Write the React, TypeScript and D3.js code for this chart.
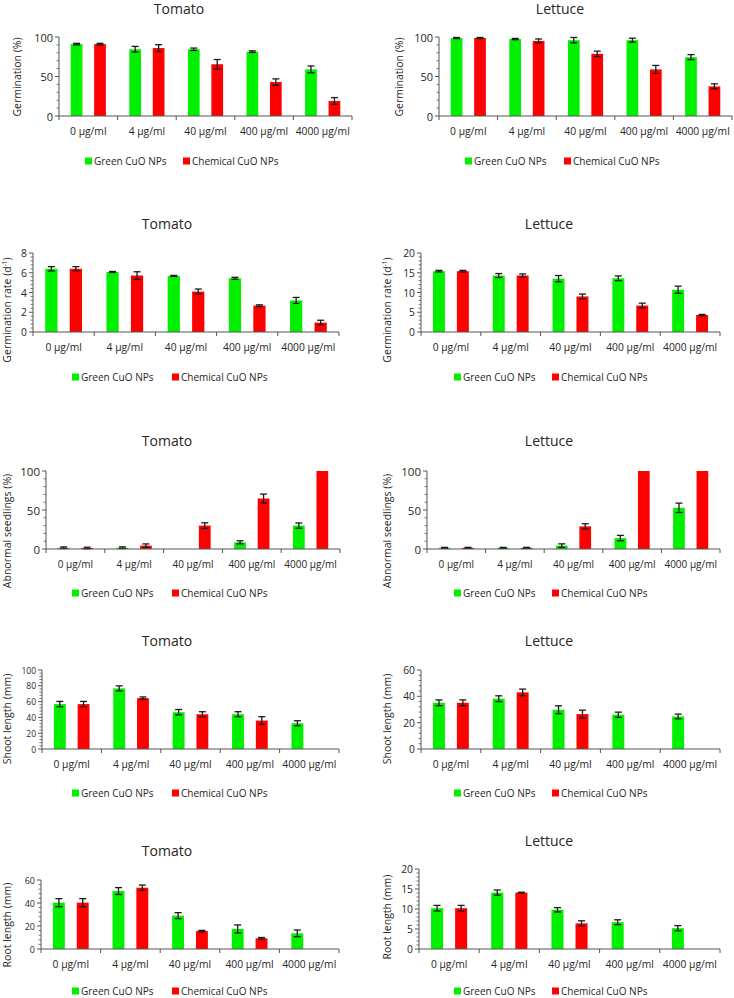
import React from "react";
import * as d3 from "d3";

// ---------- DATA ----------
const categories = ["0 µg/ml", "4 µg/ml", "40 µg/ml", "400 µg/ml", "4000 µg/ml"];
const seriesNames = ["Green CuO NPs", "Chemical CuO NPs"];
const seriesColors = ["#00F000", "#FF0000"];

// Germination (%)
const tomatoGermGreen = [91, 84.5, 84.5, 81.5, 59];
const tomatoGermGreenErr = [1, 3.6, 1.5, 1, 4.3];
const tomatoGermRed = [91, 86, 65.5, 43, 19];
const tomatoGermRedErr = [1, 4.3, 6, 4, 4.3];
const lettuceGermGreen = [98.7, 97.4, 96, 96, 74.5];
const lettuceGermGreenErr = [0.7, 0.8, 3.4, 2.5, 3.2];
const lettuceGermRed = [98.7, 95, 78.7, 59, 37.5];
const lettuceGermRedErr = [0.7, 2.5, 3.4, 5, 3.2];

// Germination rate (d-1)
const tomatoRateGreen = [6.4, 6.08, 5.68, 5.44, 3.2];
const tomatoRateGreenErr = [0.22, 0.05, 0.05, 0.1, 0.3];
const tomatoRateRed = [6.4, 5.72, 4.09, 2.67, 0.95];
const tomatoRateRedErr = [0.22, 0.38, 0.26, 0.08, 0.24];
const lettuceRateGreen = [15.4, 14.3, 13.5, 13.6, 10.7];
const lettuceRateGreenErr = [0.2, 0.5, 0.8, 0.6, 0.9];
const lettuceRateRed = [15.4, 14.3, 9.0, 6.7, 4.3];
const lettuceRateRedErr = [0.2, 0.4, 0.6, 0.6, 0.15];

// Abnormal seedlings (%)
const tomatoAbnGreen = [1.7, 1.7, null, 8.5, 30];
const tomatoAbnGreenErr = [1, 1, null, 2, 3.4];
const tomatoAbnRed = [1.3, 4.3, 30, 64.7, 100];
const tomatoAbnRedErr = [1, 2.2, 3.6, 5.7, 0];
const lettuceAbnGreen = [1.5, 1.5, 4.3, 14, 52.8];
const lettuceAbnGreenErr = [0.6, 0.6, 2.3, 3.4, 6];
const lettuceAbnRed = [1.5, 1.5, 29, 100, 100];
const lettuceAbnRedErr = [0.6, 0.6, 3.4, 0, 0];

// Shoot length (mm)
const tomatoShootGreen = [56.8, 76.7, 46.6, 44, 32.6];
const tomatoShootGreenErr = [3.4, 3.2, 3.4, 3.2, 3.2];
const tomatoShootRed = [56.8, 64.4, 44, 36, null];
const tomatoShootRedErr = [3.4, 1.5, 3.2, 4.9, null];
const lettuceShootGreen = [35.1, 38.2, 29.8, 26, 24.7];
const lettuceShootGreenErr = [2.2, 2.2, 3, 2, 1.8];
const lettuceShootRed = [35.1, 43, 26.5, null, null];
const lettuceShootRedErr = [2.2, 2.5, 3, null, null];

// Root length (mm)
const tomatoRootGreen = [40.3, 50.4, 29, 17.4, 13.6];
const tomatoRootGreenErr = [3.5, 3, 2.6, 3.5, 2.9];
const tomatoRootRed = [40.3, 53.3, 15.6, 9.3, null];
const tomatoRootRedErr = [3.5, 2.3, 0.6, 0.7, null];
const lettuceRootGreen = [10.2, 14.1, 9.8, 6.7, 5.2];
const lettuceRootGreenErr = [0.7, 0.65, 0.55, 0.6, 0.65];
const lettuceRootRed = [10.2, 14.1, 6.4, null, null];
const lettuceRootRedErr = [0.7, 0.1, 0.65, null, null];

// ---------- LAYOUT ----------
type Layout = {
  ax: number; right: number; top: number; zero: number;
  tx: number; ty: number; lx: number; ly: number;
  xly: number; legY: number; legG: number; legR: number;
  tickFs: number; catFs: number;
};

const layouts: Layout[] = [
  { ax: 59, right: 352, top: 37, zero: 116, tx: 179, ty: 8, lx: 17, ly: 77, xly: 131, legY: 161, legG: 85, legR: 183, tickFs: 11, catFs: 10.3 },
  { ax: 439, right: 732, top: 37, zero: 116, tx: 560, ty: 8, lx: 399, ly: 77, xly: 131, legY: 161, legG: 465, legR: 564, tickFs: 11, catFs: 10.3 },
  { ax: 33, right: 339, top: 253, zero: 332, tx: 167, ty: 223, lx: 7, ly: 310, xly: 347, legY: 377, legG: 72, legR: 172, tickFs: 10.3, catFs: 10.3 },
  { ax: 421, right: 720, top: 253, zero: 332, tx: 549, ty: 223, lx: 387, ly: 310, xly: 347, legY: 377, legG: 454, legR: 552, tickFs: 10.3, catFs: 10.3 },
  { ax: 46, right: 340, top: 471, zero: 549, tx: 167, ty: 440, lx: 7, ly: 531, xly: 564, legY: 593, legG: 72, legR: 172, tickFs: 11.5, catFs: 10 },
  { ax: 427, right: 720, top: 471, zero: 549, tx: 549, ty: 440, lx: 387, ly: 531, xly: 564, legY: 593, legG: 454, legR: 552, tickFs: 11.5, catFs: 10 },
  { ax: 42, right: 339, top: 670, zero: 749, tx: 167, ty: 640, lx: 7, ly: 719, xly: 764, legY: 793, legG: 72, legR: 172, tickFs: 8.5, catFs: 10.3 },
  { ax: 421, right: 720, top: 670, zero: 749, tx: 549, ty: 640, lx: 387, ly: 719, xly: 764, legY: 793, legG: 454, legR: 552, tickFs: 10.3, catFs: 10.3 },
  { ax: 41, right: 339, top: 880, zero: 949, tx: 167, ty: 850, lx: 7, ly: 925, xly: 964, legY: 991, legG: 72, legR: 172, tickFs: 9, catFs: 10.3 },
  { ax: 419, right: 720, top: 869, zero: 949, tx: 549, ty: 840, lx: 387, ly: 917, xly: 964, legY: 991, legG: 454, legR: 552, tickFs: 10.3, catFs: 10.3 },
];

type Panel = {
  title: string; ylabel: string; sup?: boolean; ymax: number; step: number;
  series: (number | null)[][]; errs: (number | null)[][];
};

const panels: Panel[] = [
  { title: "Tomato", ylabel: "Germination (%)", ymax: 100, step: 50, series: [tomatoGermGreen, tomatoGermRed], errs: [tomatoGermGreenErr, tomatoGermRedErr] },
  { title: "Lettuce", ylabel: "Germination (%)", ymax: 100, step: 50, series: [lettuceGermGreen, lettuceGermRed], errs: [lettuceGermGreenErr, lettuceGermRedErr] },
  { title: "Tomato", ylabel: "Germination rate (d", sup: true, ymax: 8, step: 2, series: [tomatoRateGreen, tomatoRateRed], errs: [tomatoRateGreenErr, tomatoRateRedErr] },
  { title: "Lettuce", ylabel: "Germination rate (d", sup: true, ymax: 20, step: 5, series: [lettuceRateGreen, lettuceRateRed], errs: [lettuceRateGreenErr, lettuceRateRedErr] },
  { title: "Tomato", ylabel: "Abnormal seedlings (%)", ymax: 100, step: 50, series: [tomatoAbnGreen, tomatoAbnRed], errs: [tomatoAbnGreenErr, tomatoAbnRedErr] },
  { title: "Lettuce", ylabel: "Abnormal seedlings (%)", ymax: 100, step: 50, series: [lettuceAbnGreen, lettuceAbnRed], errs: [lettuceAbnGreenErr, lettuceAbnRedErr] },
  { title: "Tomato", ylabel: "Shoot length (mm)", ymax: 100, step: 20, series: [tomatoShootGreen, tomatoShootRed], errs: [tomatoShootGreenErr, tomatoShootRedErr] },
  { title: "Lettuce", ylabel: "Shoot length (mm)", ymax: 60, step: 20, series: [lettuceShootGreen, lettuceShootRed], errs: [lettuceShootGreenErr, lettuceShootRedErr] },
  { title: "Tomato", ylabel: "Root length (mm)", ymax: 60, step: 20, series: [tomatoRootGreen, tomatoRootRed], errs: [tomatoRootGreenErr, tomatoRootRedErr] },
  { title: "Lettuce", ylabel: "Root length (mm)", ymax: 20, step: 5, series: [lettuceRootGreen, lettuceRootRed], errs: [lettuceRootGreenErr, lettuceRootRedErr] },
];

const FONT = "'Open Sans', 'Noto Sans', sans-serif";
const TEXT = "#262626";
const AXIS = "#555555";
const ERR = "#1a1a1a";

function Chart({ p, L }: { p: Panel; L: Layout }) {
  const x = d3.scaleBand<string>().domain(categories).range([L.ax, L.right]).padding(0);
  const inner = d3
    .scaleBand<string>()
    .domain(seriesNames)
    .range([0, x.bandwidth()])
    .paddingInner(0.5)
    .paddingOuter(0.5);
  const y = d3.scaleLinear().domain([0, p.ymax]).range([L.zero, L.top]);
  const majors = d3.range(0, p.ymax + 1e-9, p.step);
  const minorStep = p.step / 5;
  const minors = d3.range(0, p.ymax + 1e-9, minorStep).filter((v) => Math.abs(v / p.step - Math.round(v / p.step)) > 1e-6);
  const boundaries = categories.map((c) => x(c)!).concat([L.right]);

  return (
    <g>
      <text x={L.tx} y={L.ty} textAnchor="middle" dominantBaseline="central" fontSize={14} fill={TEXT} fontFamily={FONT}>
        {p.title}
      </text>
      {/* bars */}
      {p.series.map((vals, si) =>
        vals.map((v, ci) => {
          if (v === null || v === undefined) return null;
          const bx = x(categories[ci])! + inner(seriesNames[si])!;
          const bw = inner.bandwidth();
          return (
            <rect key={`b${si}-${ci}`} x={bx} y={y(v)} width={bw} height={L.zero - y(v)} fill={seriesColors[si]} />
          );
        })
      )}
      {/* error bars */}
      {p.series.map((vals, si) =>
        vals.map((v, ci) => {
          const e = p.errs[si][ci];
          if (v === null || v === undefined || e === null || e === undefined || e <= 0) return null;
          const cx = x(categories[ci])! + inner(seriesNames[si])! + inner.bandwidth() / 2;
          const y1 = y(v + e);
          const y2 = y(Math.max(v - e, 0));
          return (
            <g key={`e${si}-${ci}`} stroke={ERR} strokeWidth={1.3}>
              <line x1={cx} x2={cx} y1={y1} y2={y2} />
              <line x1={cx - 3.5} x2={cx + 3.5} y1={y1} y2={y1} />
              <line x1={cx - 3.5} x2={cx + 3.5} y1={y2} y2={y2} />
            </g>
          );
        })
      )}
      {/* y axis */}
      <line x1={L.ax} x2={L.ax} y1={L.top} y2={L.zero} stroke={AXIS} strokeWidth={1} />
      {majors.map((v) => (
        <g key={`yt${v}`}>
          <line x1={L.ax - 4} x2={L.ax} y1={y(v)} y2={y(v)} stroke={AXIS} strokeWidth={1} />
          <text x={L.ax - 6} y={y(v)} textAnchor="end" dominantBaseline="central" fontSize={L.tickFs} fill={TEXT} fontFamily={FONT}>
            {v}
          </text>
        </g>
      ))}
      {minors.map((v) => (
        <line key={`ym${v}`} x1={L.ax - 2.5} x2={L.ax} y1={y(v)} y2={y(v)} stroke={AXIS} strokeWidth={0.8} />
      ))}
      {/* x axis */}
      <line x1={L.ax} x2={L.right} y1={L.zero} y2={L.zero} stroke={AXIS} strokeWidth={1} />
      {boundaries.map((bx, i) => (
        <line key={`xt${i}`} x1={bx} x2={bx} y1={L.zero} y2={L.zero + 4} stroke={AXIS} strokeWidth={1} />
      ))}
      {categories.map((c) => (
        <text key={c} x={x(c)! + x.bandwidth() / 2} y={L.xly} textAnchor="middle" dominantBaseline="central" fontSize={L.catFs} fill={TEXT} fontFamily={FONT}>
          {c}
        </text>
      ))}
      {/* y label */}
      <text
        transform={`translate(${L.lx},${L.ly}) rotate(-90)`}
        textAnchor="middle"
        dominantBaseline="central"
        fontSize={10.5}
        fill={TEXT}
        fontFamily={FONT}
      >
        {p.ylabel}
        {p.sup ? (
          <>
            <tspan dy={-3.5} fontSize={6.5}>-1</tspan>
            <tspan dy={3.5}>)</tspan>
          </>
        ) : null}
      </text>
      {/* legend */}
      {seriesNames.map((s, i) => {
        const lx = i === 0 ? L.legG : L.legR;
        return (
          <g key={s}>
            <rect x={lx} y={L.legY - 3.5} width={7} height={7} fill={seriesColors[i]} />
            <text x={lx + 9} y={L.legY} dominantBaseline="central" fontSize={10} fill={TEXT} fontFamily={FONT}>
              {s}
            </text>
          </g>
        );
      })}
    </g>
  );
}

export default function App() {
  return (
    <svg
      width={734}
      height={998}
      viewBox="0 0 734 998"
      style={{ position: "absolute", left: 0, top: 0, background: "#fff" }}
    >
      <rect width={734} height={998} fill="#fff" />
      {panels.map((p, i) => (
        <Chart key={i} p={p} L={layouts[i]} />
      ))}
    </svg>
  );
}
